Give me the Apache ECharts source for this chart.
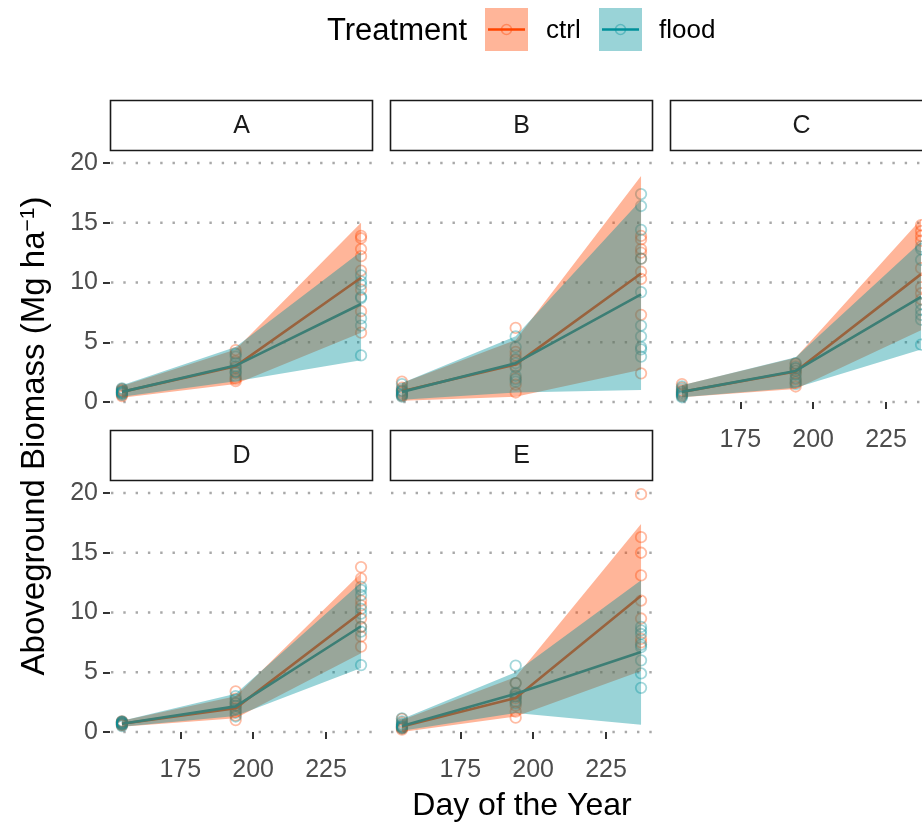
<!DOCTYPE html>
<html>
<head>
<meta charset="utf-8">
<script src="https://cdn.jsdelivr.net/npm/echarts@6/dist/echarts.min.js"></script>
<style>html,body{margin:0;padding:0;background:#fff}#chart{width:922px;height:823px}</style>
</head>
<body>
<div id="chart"></div>
<script>
// ---------------- data ----------------
const panels = ['A', 'B', 'C', 'D', 'E'];
const days = [155, 194, 237];
const yTicks = [0, 5, 10, 15, 20];
const xTicks = [175, 200, 225];
const yRange = [-1, 21];
const xRange = [150.9, 241.1];

// mean lines per panel (A..E), per day
const ctrlMean  = [[0.85, 3.0, 10.4], [0.9, 3.15, 10.75], [0.85, 2.55, 10.7], [0.7, 2.0, 10.0], [0.47, 2.85, 11.4]];
const floodMean = [[0.85, 3.05, 8.2], [0.85, 3.25, 9.0], [0.85, 2.6, 8.8], [0.7, 2.15, 8.85], [0.5, 3.2, 6.7]];
// ribbon bounds
const ctrlLo  = [[0.35, 1.5, 5.8], [0.1, 0.45, 2.7], [0.4, 1.1, 6.0], [0.45, 1.15, 6.6], [0.0, 1.3, 5.1]];
const ctrlHi  = [[1.35, 4.4, 15.0], [1.6, 5.2, 18.9], [1.4, 3.7, 15.3], [0.95, 3.0, 13.3], [1.0, 4.6, 17.4]];
const floodLo = [[0.45, 1.75, 3.5], [0.2, 0.8, 1.0], [0.4, 1.2, 4.4], [0.45, 1.35, 5.35], [0.1, 1.6, 0.6]];
const floodHi = [[1.4, 4.6, 12.6], [1.6, 5.5, 16.9], [1.4, 3.75, 13.4], [0.95, 3.2, 12.5], [1.1, 5.0, 12.7]];
// observations: panel -> day -> values
const ctrlPoints = [
  [[0.5, 0.7, 0.8, 0.9, 1.0, 1.1, 0.6, 0.95], [4.35, 4.1, 3.4, 2.9, 2.4, 2.0, 1.75, 1.9], [13.9, 13.7, 12.8, 12.2, 11.0, 9.4, 7.6, 5.8]],
  [[1.7, 1.2, 0.9, 0.6, 0.5, 0.8, 1.0, 0.7], [6.2, 4.2, 3.9, 3.5, 3.0, 2.0, 1.45, 0.8], [13.9, 13.6, 12.8, 12.5, 12.0, 10.9, 10.3, 7.3, 2.4]],
  [[1.5, 1.2, 1.0, 0.8, 0.6, 0.5, 0.9, 0.7], [3.2, 3.0, 2.8, 2.4, 1.9, 1.6, 1.3, 2.6], [14.8, 14.3, 13.9, 13.5, 11.2, 9.6, 9.1, 8.6]],
  [[0.9, 0.8, 0.7, 0.6, 0.55, 0.75, 0.65, 0.85], [3.4, 2.8, 2.4, 2.0, 1.7, 1.4, 1.0, 2.2], [13.8, 12.85, 11.0, 10.6, 9.5, 8.8, 8.0, 7.15]],
  [[1.1, 0.8, 0.6, 0.4, 0.3, 0.2, 0.5, 0.35], [4.1, 3.2, 3.0, 2.8, 2.5, 2.2, 1.7, 1.2], [19.9, 16.3, 15.0, 13.1, 11.0, 9.5, 7.8, 7.5]]
];
const floodPoints = [
  [[0.6, 0.75, 0.85, 0.9, 1.05, 0.7, 0.8, 1.15], [4.0, 3.8, 3.25, 3.0, 2.8, 2.55, 2.15, 2.5], [10.6, 10.1, 9.8, 8.8, 8.7, 7.0, 6.4, 3.9]],
  [[1.5, 1.1, 0.9, 0.6, 0.45, 0.75, 0.95, 0.55], [5.5, 4.6, 3.6, 3.25, 2.9, 2.2, 1.9, 1.7], [17.4, 16.4, 14.4, 12.0, 9.2, 6.4, 5.5, 4.6, 4.4, 3.8]],
  [[1.3, 1.1, 0.9, 0.6, 0.4, 0.8, 0.7, 0.5], [3.25, 2.9, 2.6, 2.3, 2.0, 1.7, 1.5, 2.8], [13.0, 12.8, 11.9, 7.7, 7.3, 6.9, 4.8, 8.2]],
  [[0.85, 0.75, 0.7, 0.6, 0.5, 0.8, 0.65, 0.9], [3.0, 2.7, 2.5, 2.2, 1.9, 1.6, 1.3, 2.4], [12.15, 11.9, 11.45, 10.3, 9.9, 8.8, 8.4, 5.6]],
  [[1.15, 0.9, 0.7, 0.5, 0.3, 0.4, 0.6, 0.45], [5.55, 4.1, 3.3, 3.0, 2.9, 2.6, 2.4, 3.2], [8.8, 8.5, 8.2, 7.3, 7.1, 6.0, 4.9, 3.7]]
];

// ---------------- styling / layout ----------------
const FONT = 'Liberation Sans, Arial, Helvetica, sans-serif';
const CTRL = '#FF4500', FLOOD = '#00909A';
const CTRL_A = 'rgba(255,69,0,0.4)', FLOOD_A = 'rgba(0,144,154,0.4)';
const CTRL_P = 'rgba(255,69,0,0.45)', FLOOD_P = 'rgba(0,144,154,0.45)';
const panelPos = [[110, 151], [390, 151], [670, 151], [110, 481], [390, 481]];
const PW = 263, PH = 263, STRIP_H = 51;
const showX = [false, false, true, true, true];
const showY = [true, false, false, true, false];

const grids = [], xAxes = [], yAxes = [], series = [], graphics = [];

panels.forEach((p, g) => {
  const [left, top] = panelPos[g];
  grids.push({ left: left, top: top, width: PW, height: PH, containLabel: false, outerBoundsMode: 'none' });
  xAxes.push({
    type: 'value', gridIndex: g, min: xRange[0], max: xRange[1],
    axisLine: { show: false }, splitLine: { show: false },
    axisTick: { show: showX[g], customValues: xTicks, length: 7, lineStyle: { color: '#333333', width: 2 } },
    axisLabel: { show: showX[g], customValues: xTicks, fontSize: 25, color: '#4d4d4d', fontFamily: FONT, margin: 14 }
  });
  yAxes.push({
    type: 'value', gridIndex: g, min: yRange[0], max: yRange[1],
    axisLine: { show: false }, splitLine: { show: false },
    axisTick: { show: showY[g], customValues: yTicks, length: 7, lineStyle: { color: '#333333', width: 2 } },
    axisLabel: { show: showY[g], customValues: yTicks, fontSize: 25, color: '#4d4d4d', fontFamily: FONT, margin: 12 }
  });

  // dotted horizontal grid lines
  series.push({
    type: 'custom', xAxisIndex: g, yAxisIndex: g, z: 0, silent: true,
    data: yTicks.map(v => [xRange[0], v]),
    renderItem: (params, api) => {
      const y = api.coord([xRange[0], api.value(1)])[1];
      const cs = params.coordSys;
      return { type: 'line', shape: { x1: cs.x + 1, y1: y, x2: cs.x + cs.width, y2: y },
        style: { stroke: '#a9a9a9', lineWidth: 2.4, lineDash: [2.4, 9.9] } };
    }
  });

  // observations
  const mkPts = (arr) => {
    const out = [];
    arr[g].forEach((vals, i) => vals.forEach(v => out.push([days[i], v])));
    return out;
  };
  series.push({ type: 'scatter', xAxisIndex: g, yAxisIndex: g, z: 2, symbol: 'circle', symbolSize: 10.5,
    data: mkPts(ctrlPoints), itemStyle: { color: 'rgba(0,0,0,0)', borderColor: CTRL_P, borderWidth: 1.8 } });
  series.push({ type: 'scatter', xAxisIndex: g, yAxisIndex: g, z: 2, symbol: 'circle', symbolSize: 10.5,
    data: mkPts(floodPoints), itemStyle: { color: 'rgba(0,0,0,0)', borderColor: FLOOD_P, borderWidth: 1.8 } });

  // mean lines
  series.push({ type: 'line', xAxisIndex: g, yAxisIndex: g, z: 3, showSymbol: false,
    data: days.map((d, i) => [d, ctrlMean[g][i]]), lineStyle: { color: CTRL, width: 2.6 } });
  series.push({ type: 'line', xAxisIndex: g, yAxisIndex: g, z: 3, showSymbol: false,
    data: days.map((d, i) => [d, floodMean[g][i]]), lineStyle: { color: FLOOD, width: 2.6 } });

  // ribbons
  const mkRibbon = (lo, hi, fill, z) => ({
    type: 'custom', xAxisIndex: g, yAxisIndex: g, z: z, silent: true,
    data: days.map((d, i) => [d, lo[g][i], hi[g][i]]),
    renderItem: (params, api) => {
      if (params.dataIndex !== 0) return null;
      const pts = [];
      days.forEach((d, i) => pts.push(api.coord([d, hi[g][i]])));
      for (let i = days.length - 1; i >= 0; i--) pts.push(api.coord([days[i], lo[g][i]]));
      return { type: 'polygon', shape: { points: pts }, style: { fill: fill } };
    }
  });
  series.push(mkRibbon(ctrlLo, ctrlHi, CTRL_A, 4));
  series.push(mkRibbon(floodLo, floodHi, FLOOD_A, 5));

  // strip
  graphics.push({ type: 'rect', shape: { x: left + 0.5, y: top - STRIP_H + 0.5, width: PW - 1, height: STRIP_H - 1 },
    style: { fill: '#ffffff', stroke: '#1a1a1a', lineWidth: 1.6 }, z: 10 });
  graphics.push({ type: 'text', x: left + PW / 2, y: top - STRIP_H / 2 + 1, z: 11,
    style: { text: p, fontSize: 25, fontFamily: FONT, fill: '#1a1a1a', align: 'center', verticalAlign: 'middle' } });
});

// axis titles
graphics.push({ type: 'text', x: 522, y: 806, z: 11,
  style: { text: 'Day of the Year', fontSize: 32, fontFamily: FONT, fill: '#000', align: 'center', verticalAlign: 'middle' } });
graphics.push({ type: 'text', x: 35, y: 436, rotation: Math.PI / 2, z: 11,
  style: { text: 'Aboveground Biomass (Mg ha{sup|−1})', fontSize: 33, fontFamily: FONT, fill: '#000', align: 'center', verticalAlign: 'middle',
    rich: { sup: { fontSize: 21, fontFamily: FONT, fill: '#000', verticalAlign: 'top', padding: [0, 0, 13, 0] } } } });

// legend
graphics.push({ type: 'text', x: 327, y: 31, z: 11,
  style: { text: 'Treatment', fontSize: 31, fontFamily: FONT, fill: '#000', align: 'left', verticalAlign: 'middle' } });
[[485, CTRL, CTRL_A, 'ctrl', 546], [599, FLOOD, FLOOD_A, 'flood', 659]].forEach(([kx, col, colA, lab, tx]) => {
  graphics.push({ type: 'rect', shape: { x: kx, y: 8, width: 43, height: 43 }, style: { fill: colA }, z: 11 });
  graphics.push({ type: 'line', shape: { x1: kx + 3, y1: 29.5, x2: kx + 40, y2: 29.5 }, style: { stroke: col, lineWidth: 2.6 }, z: 12 });
  graphics.push({ type: 'circle', shape: { cx: kx + 21.5, cy: 29.5, r: 5 }, style: { fill: 'none', stroke: colA, lineWidth: 1.6 }, z: 12 });
  graphics.push({ type: 'text', x: tx, y: 31, z: 11,
    style: { text: lab, fontSize: 26, fontFamily: FONT, fill: '#000', align: 'left', verticalAlign: 'middle' } });
});

const chart = echarts.init(document.getElementById('chart'), null, { renderer: 'canvas' });
chart.setOption({
  animation: false,
  backgroundColor: '#ffffff',
  textStyle: { fontFamily: FONT },
  grid: grids, xAxis: xAxes, yAxis: yAxes, series: series, graphic: graphics
});
</script>
</body>
</html>
